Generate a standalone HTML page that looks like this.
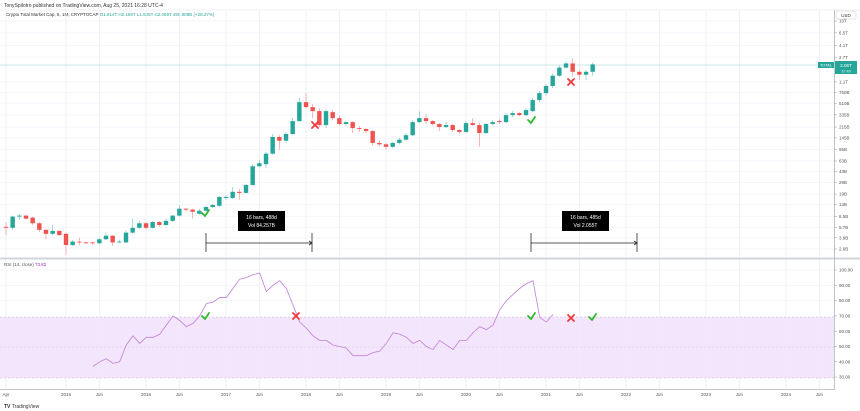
<!DOCTYPE html>
<html><head><meta charset="utf-8"><style>
html,body{margin:0;padding:0;background:#fff;}
svg{display:block;font-family:"Liberation Sans",sans-serif;}
</style></head><body>
<svg id="chart" width="860" height="411" viewBox="0 0 860 411" xmlns="http://www.w3.org/2000/svg">
<rect x="0" y="0" width="860" height="411" fill="#fff"/>
<text x="4" y="7" font-size="5" fill="#333">TonySpilotro published on TradingView.com, Aug 25, 2021 16:28 UTC-4</text>
<line x1="0" y1="10" x2="860" y2="10" stroke="#e0e3eb" stroke-width="0.5"/>
<text x="6" y="16" font-size="4.5" fill="#333">Crypto Total Market Cap, 5, 1M, CRYPTOCAP <tspan fill="#26a69a">O1.614T  H2.169T  L1.505T  C2.069T  455.908B (+28.27%)</tspan></text>
<rect x="0" y="317" width="834" height="61" fill="#f3e5fc"/>
<g id="grid"></g>
<line x1="0" y1="317" x2="834" y2="317" stroke="#c9b6d6" stroke-width="0.5" stroke-dasharray="2,2"/>
<line x1="0" y1="347" x2="834" y2="347" stroke="#d6c6e0" stroke-width="0.5" stroke-dasharray="2,2"/>
<line x1="0" y1="378" x2="834" y2="378" stroke="#c9b6d6" stroke-width="0.5" stroke-dasharray="2,2"/>
<line x1="0" y1="65" x2="834" y2="65" stroke="#26a69a" stroke-opacity="0.25" stroke-width="1"/>
<g id="candles"></g>
<polyline id="rsi" fill="none" stroke="#c27fd9" stroke-width="0.8"/>
<line x1="0" y1="258.5" x2="860" y2="258.5" stroke="#d1d4dc" stroke-width="2"/>
<text x="4" y="266" font-size="4.5" fill="#555">RSI (14, close) <tspan fill="#9c27b0">73.82</tspan></text>
<line x1="834.5" y1="10" x2="834.5" y2="390" stroke="#b2b5be" stroke-width="0.8"/>
<line x1="0" y1="389.5" x2="834" y2="389.5" stroke="#b2b5be" stroke-width="0.8"/>
<g id="axes" font-size="4.5" fill="#555"></g>
<rect x="836" y="11" width="20" height="8" rx="1.5" fill="#fff" stroke="#ccc" stroke-width="0.5"/>
<text x="846" y="17" font-size="4.5" text-anchor="middle" fill="#333">USD</text>
<rect x="818" y="62" width="16" height="6" fill="#26a69a"/>
<text x="826" y="66.5" font-size="3.8" text-anchor="middle" fill="#fff">TOTAL</text>
<rect x="835" y="61" width="22" height="13" fill="#26a69a"/>
<text x="846" y="67" font-size="4.5" text-anchor="middle" fill="#fff">2.06T</text>
<text x="846" y="72.5" font-size="3.8" text-anchor="middle" fill="#e0f2f1">37:49</text>
<g id="marks"></g>
<g>
<rect x="238" y="211" width="47" height="20" fill="#000"/>
<text x="261.5" y="219" font-size="5" fill="#fff" text-anchor="middle">16 bars, 488d</text>
<text x="261.5" y="227" font-size="5" fill="#fff" text-anchor="middle">Vol 84.257B</text>
<line x1="206" y1="233" x2="206" y2="252" stroke="#555" stroke-width="1"/>
<line x1="312" y1="233" x2="312" y2="252" stroke="#555" stroke-width="1"/>
<line x1="206" y1="243" x2="312" y2="243" stroke="#222" stroke-width="0.8"/>
<path d="M309,241 L312,243 L309,245" fill="none" stroke="#222" stroke-width="0.8"/>
</g>
<g>
<rect x="562" y="211" width="47" height="20" fill="#000"/>
<text x="585.5" y="219" font-size="5" fill="#fff" text-anchor="middle">16 bars, 485d</text>
<text x="585.5" y="227" font-size="5" fill="#fff" text-anchor="middle">Vol 2.055T</text>
<line x1="531" y1="233" x2="531" y2="252" stroke="#555" stroke-width="1"/>
<line x1="637" y1="233" x2="637" y2="252" stroke="#555" stroke-width="1"/>
<line x1="531" y1="243" x2="637" y2="243" stroke="#222" stroke-width="0.8"/>
<path d="M634,241 L637,243 L634,245" fill="none" stroke="#222" stroke-width="0.8"/>
</g>
<text x="4" y="408" font-size="5" font-weight="bold" fill="#333">TV <tspan font-weight="normal">TradingView</tspan></text>
</svg>
<script>
const opens=[5.8,5.6,8.4,8.7,8.1,6.6,5.2,4.5,5.0,4.5,3.0,3.4,3.3,3.3,3.2,3.7,4.2,3.3,3.3,4.7,5.6,6.6,5.6,6.9,6.2,7.2,8.7,11.2,10.8,9.3,10.4,11.9,12.4,16.5,16.5,20.6,19.8,26.4,52,56,82,150,131,167,267,530,442,383,231,369,297,240,257,207,200,186,121,115,105,121,136,160,257,297,267,240,215,231,193,180,248,231,173,240,267,257,331,356,331,383,571,735,951,1380,1850,2150,1590,1430,1590];
const closes=[5.6,8.4,8.7,7.8,6.6,5.2,4.5,5.0,4.3,3.0,3.4,3.3,3.2,3.2,3.7,4.2,3.3,3.4,4.7,5.6,6.6,5.6,6.9,6.2,7.2,8.7,11.2,10.8,10.0,10.4,11.9,12.8,17.1,17.1,20.6,19.8,26.4,52,58,82,150,131,167,267,530,442,383,231,383,297,240,257,207,200,186,121,115,105,121,136,160,257,297,267,240,215,231,193,180,248,231,173,240,257,257,331,356,331,397,571,735,951,1380,1850,2150,1590,1430,1590,2080];
const highs=[6.9,8.7,9.3,9.0,8.4,6.9,5.4,6.2,5.2,4.7,3.6,3.9,3.4,3.4,3.9,4.7,4.3,3.6,5.2,7.8,7.2,6.9,7.2,7.2,7.8,9.0,12.8,11.6,11.2,11.2,12.4,13.3,17.7,18.4,24.6,22.9,27.3,56,64.5,88,167,160,180,297,613,735,494,426,411,397,331,267,267,223,207,193,131,121,126,145,173,277,383,343,277,248,257,240,200,267,297,248,248,277,287,356,383,369,426,613,792,1020,1490,2000,2310,2580,1720,1690,2230];
const lows=[4.3,5.2,7.5,7.5,6.2,4.8,3.7,4.3,4.2,2.1,2.9,3.0,3.1,3.0,3.1,3.6,2.9,3.2,3.2,4.5,5.4,5.2,5.4,5.8,6.0,6.9,8.4,10.0,7.8,9.0,10.0,11.6,11.9,15.4,15.9,15.4,19.1,25.5,50.3,48.7,79,94,121,160,257,426,297,215,207,277,231,223,173,180,173,110,105,94,101,115,131,155,248,240,223,186,207,180,167,173,223,105,167,231,240,248,308,320,320,369,530,680,883,1330,1790,1330,1180,1180,1380];
const rsiValues=[37,40,42,39,40,51,57,52,56,56,58,64,70,67,63,65,70,78,79,82,82,88,94,95,97,98,86,90,93,88,77,66,62,57,54,54,51,50,49,44,44,44,46,47,52,59,58,56,52,54,50,48,54,51,48,54,54,59,63,61,64,74,80,84,88,91,93,69,66,71];
const priceTicks=["10T","6.5T","4.1T","2.7T","1.1T","750B","510B","335B","215B","145B","95B","63B","43B","29B","19B","13B","8.5B","5.7B","3.9B","2.6B"];
const priceTickVals=[10000,6500,4100,2700,1100,750,510,335,215,145,95,63,43,29,19,13,8.5,5.7,3.9,2.6];
const rsiTicks=[100,90,80,70,60,50,40,30];
const timeLabels=["Apr","2015","Jun","2016","Jun","2017","Jun","2018","Jun","2019","Jun","2020","Jun","2021","Jun","2022","Jun","2023","Jun","2024","Jun"];
const timeMonths=[0,9,14,21,26,33,38,45,50,57,62,69,74,81,86,93,98,105,110,117,122];

const NS="http://www.w3.org/2000/svg";
const xOf=i=>6+i*6.667;
const yOf=v=>249-63.6*Math.log10(v/2.6);
const rsiX=k=>93+k*6.667;
const rsiY=r=>270+(100-r)*1.53;
function mk(tag,attrs,parent){const e=document.createElementNS(NS,tag);for(const k in attrs)e.setAttribute(k,attrs[k]);parent.appendChild(e);return e;}
const grid=document.getElementById('grid'),axes=document.getElementById('axes'),cg=document.getElementById('candles');
timeMonths.forEach((m,j)=>{
  const x=xOf(m);
  mk('line',{x1:x,y1:10,x2:x,y2:389,stroke:'#ebeef5','stroke-width':0.8},grid);
  const t=mk('text',{x:x,y:396,'text-anchor':'middle'},axes);t.textContent=timeLabels[j];
  
  
});
priceTickVals.forEach((v,j)=>{
  const y=yOf(v);
  mk('line',{x1:0,y1:y,x2:834,y2:y,stroke:'#f0f3fa','stroke-width':0.8},grid);
  mk('line',{x1:834,y1:y,x2:837,y2:y,stroke:'#999','stroke-width':0.5},axes);
  const t=mk('text',{x:839,y:y+1.6},axes);t.textContent=priceTicks[j];
  
  
});
rsiTicks.forEach(r=>{
  const y=rsiY(r);
  if(r>70)mk('line',{x1:0,y1:y,x2:834,y2:y,stroke:'#f0f3fa','stroke-width':0.8},grid);
  mk('line',{x1:834,y1:y,x2:837,y2:y,stroke:'#999','stroke-width':0.5},axes);
  const t=mk('text',{x:839,y:y+1.6},axes);t.textContent=r.toFixed(2);
  
  
});
opens.forEach((o,i)=>{
  const c=closes[i],up=c>=o,col=up?'#26a69a':'#ef5350',x=xOf(i);
  const g=mk('g',{},cg);
  
  
  mk('line',{x1:x,y1:yOf(highs[i]),x2:x,y2:yOf(lows[i]),stroke:col,'stroke-opacity':0.6,'stroke-width':0.7},g);
  const yt=yOf(Math.max(o,c)),yb=yOf(Math.min(o,c));
  mk('rect',{x:x-2.2,y:yt,width:4.4,height:Math.max(0.8,yb-yt),fill:col},g);
});
document.getElementById('rsi').setAttribute('points',rsiValues.map((r,k)=>rsiX(k)+','+rsiY(r)).join(' '));
const marks=document.getElementById('marks');
function check(x,y){const p=mk('path',{d:`M${x-3},${y} L${x},${y+3} L${x+4},${y-3}`,fill:'none',stroke:'#2db82d','stroke-width':1.8,'stroke-linecap':'round'},marks);

}
function cross(x,y){const p=mk('path',{d:`M${x-3},${y-3} L${x+3},${y+3} M${x+3},${y-3} L${x-3},${y+3}`,stroke:'#f03a3a','stroke-width':1.8,'stroke-linecap':'round'},marks);

}
check(205,213);check(531,120);check(205,316);check(531,316);check(592,317);
cross(315,125);cross(571,82);cross(296,316);cross(571,318);
</script>
</body></html>
